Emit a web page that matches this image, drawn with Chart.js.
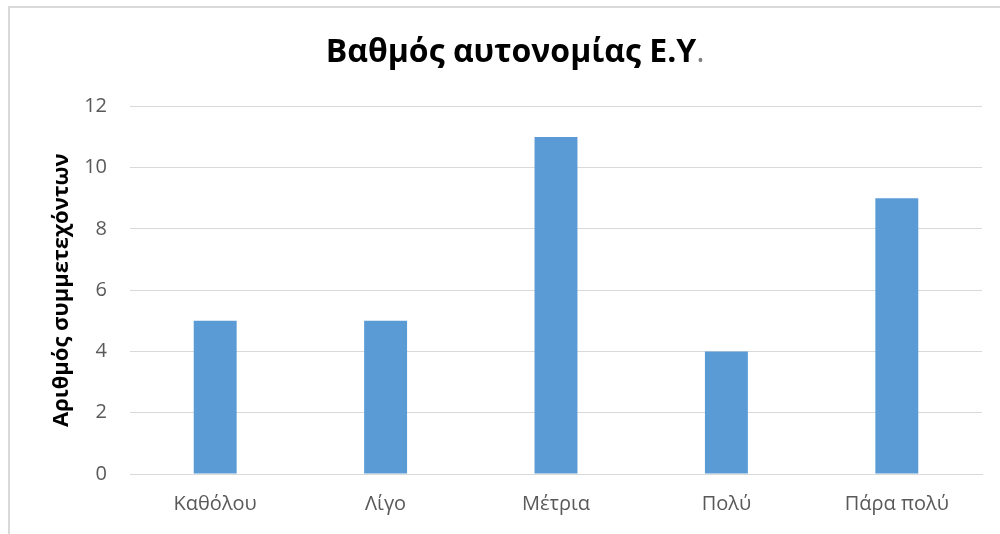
<!DOCTYPE html>
<html>
<head>
<meta charset="utf-8">
<script src="https://cdn.jsdelivr.net/npm/chart.js@4"></script>
<style>
  html, body { margin: 0; padding: 0; background: #fff; }
  #wrap { position: relative; width: 1000px; height: 534px; overflow: hidden; }
  #frame { position: absolute; left: 8px; top: 6px; width: 1200px; height: 800px;
           border: 2px solid #d9d9d9; pointer-events: none; }
</style>
</head>
<body>
<div id="wrap">
  <canvas id="myChart" width="1000" height="534"></canvas>
  <div id="frame"></div>
</div>
<script>
const labels = ['Καθόλου', 'Λίγο', 'Μέτρια', 'Πολύ', 'Πάρα πολύ'];
const counts = [5, 5, 11, 4, 9];
const yTicks = [0, 2, 4, 6, 8, 10, 12];

const font = "'Open Sans', 'Noto Sans', sans-serif";
const titleSize = 32;

// the trailing dot of the title is drawn in grey, regular weight
const titleDot = {
    id: 'titleDot',
    afterDraw(chart) {
        const t = chart.titleBlock;
        if (!t) return;
        const ctx = chart.ctx;
        const opts = t.options;
        ctx.save();
        ctx.font = 'bold ' + titleSize + 'px ' + font;
        const w = ctx.measureText(opts.text).width;
        const cx = (t.left + t.right) / 2;
        const cy = t.top + opts.padding.top + titleSize * 0.6;
        ctx.font = titleSize + 'px ' + font;
        ctx.fillStyle = '#7f7f7f';
        ctx.textBaseline = 'middle';
        ctx.textAlign = 'left';
        ctx.fillText('.', cx + w / 2, cy);
        ctx.restore();
    }
};

const data = {
    labels: labels,
    datasets: [
        {
            label: 'Αριθμός συμμετεχόντων',
            backgroundColor: '#5b9bd5',
            data: counts,
            categoryPercentage: 1,
            barPercentage: 0.252,
        },
    ],
};

const config = {
    type: 'bar',
    data: data,
    plugins: [titleDot],
    options: {
        responsive: false,
        animation: false,
        layout: { padding: { left: 40, right: 18, top: 0, bottom: 0 } },
        plugins: {
            legend: { display: false },
            tooltip: { enabled: false },
            title: {
                display: true,
                text: 'Βαθμός αυτονομίας Ε.Υ',
                color: '#000',
                font: { family: font, size: titleSize, weight: 'bold', lineHeight: 1.2 },
                padding: { top: 34, bottom: 34 },
            },
        },
        scales: {
            x: {
                grid: { display: false, drawTicks: false },
                border: { display: true, color: '#d9d9d9', width: 1 },
                ticks: {
                    color: '#595959',
                    font: { family: font, size: 20 },
                    padding: 18,
                    maxRotation: 0,
                },
                afterFit: function (scale) { scale.height = 60; },
            },
            y: {
                min: 0,
                max: 12,
                afterBuildTicks: function (scale) {
                    scale.ticks = yTicks.map(v => ({ value: v }));
                },
                grid: { color: '#d9d9d9', drawTicks: false },
                border: { display: false },
                ticks: {
                    color: '#595959',
                    font: { family: font, size: 20 },
                    padding: 23,
                },
                title: {
                    display: true,
                    text: 'Αριθμός συμμετεχόντων',
                    color: '#000',
                    font: { family: font, size: 22, weight: 'bold' },
                    padding: { top: 9, bottom: 0 },
                },
                afterFit: function (scale) { scale.width = 90; },
            },
        },
    },
};
const myChart = new Chart(document.getElementById('myChart'), config);
</script>
</body>
</html>
